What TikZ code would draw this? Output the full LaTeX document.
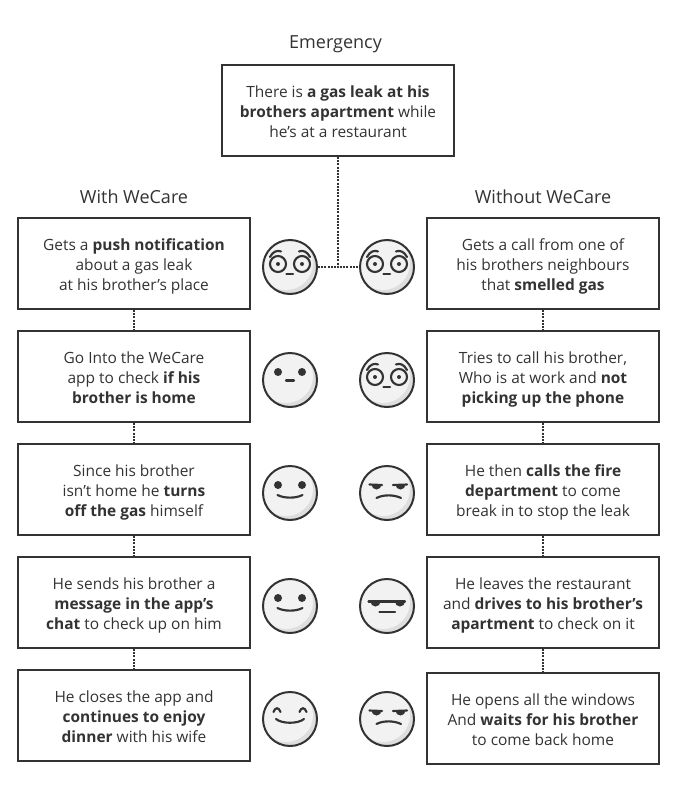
\documentclass[tikz,border=0pt]{standalone}
\usepackage{fontspec}
\setmainfont{Open Sans}
\definecolor{inkc}{HTML}{333333}
\definecolor{facelight}{HTML}{F2F2F2}
\definecolor{faceshade}{HTML}{DEDEDE}
\usetikzlibrary{calc}
\tikzset{
  box/.style={draw=inkc,line width=1.5pt,fill=white,minimum width=174pt,minimum height=68.25pt,align=center,text=inkc,font=\fontsize{11.6pt}{15pt}\selectfont,inner sep=0pt,
    execute at begin node={\rule[-3.4pt]{0pt}{46.6pt}}},
  title/.style={text=inkc,font=\fontsize{13.5pt}{15pt}\selectfont,inner sep=0pt,anchor=base},
  link/.style={draw=inkc,line width=1.6pt,dash pattern=on 1.5pt off 0.9pt},
  facecircle/.style={circle,minimum size=40.5pt,inner sep=0pt},
  featureline/.style={draw=inkc,line width=1.6pt,line cap=round},
  featurefill/.style={fill=inkc},
}
\newcommand{\facebase}[1]{%
  \begin{scope}
    \clip (#1) circle[radius=27];
    \fill[faceshade] (#1) circle[radius=27];
    \fill[facelight] ($(#1)+(-4,-4)$) circle[radius=27];
  \end{scope}
  \draw[inkc,line width=1.5pt] (#1) circle[radius=27];
}
\newcommand{\wide}[1]{\facebase{#1}
 \begin{scope}[shift={(#1)}]
  \draw[featureline] (-12,-3) circle[radius=8] (12,-3) circle[radius=8];
  \fill[featurefill] (-12,-3) circle[radius=2] (12,-3) circle[radius=2];
  \draw[featureline] (-3.5,7) -- (3,7);
  \draw[featureline] (-20,-10) .. controls (-17,-16) and (-12,-17) .. (-9,-15.5);
  \draw[featureline] (9,-15.5) .. controls (12,-17) and (17,-16) .. (20,-10);
 \end{scope}}
\newcommand{\neutral}[1]{\facebase{#1}
 \begin{scope}[shift={(#1)}]
  \fill[featurefill] (-12,-8) circle[radius=4] (12,-8) circle[radius=4];
  \draw[featureline] (-4,0.5) -- (4,0.5);
 \end{scope}}
\newcommand{\smiley}[1]{\facebase{#1}
 \begin{scope}[shift={(#1)}]
  \fill[featurefill] (-12,-8) circle[radius=4] (12,-8) circle[radius=4];
  \draw[featureline] (-12.5,2) .. controls (-6,5.5) and (6,5.5) .. (12.5,2);
 \end{scope}}
\newcommand{\grumpy}[1]{\facebase{#1}
 \begin{scope}[shift={(#1)}]
  \draw[featureline] (-17.5,-8.5) -- (-5,-8) (6,-8) -- (20,-8.5);
  \fill[featurefill] (-15.5,-8.5) arc[start angle=180,end angle=0,radius=5] -- cycle;
  \fill[featurefill] (8.5,-8.5) arc[start angle=180,end angle=0,radius=5] -- cycle;
  \draw[featureline] (-10.5,5) .. controls (-4,1.5) and (7,1.5) .. (14,5);
 \end{scope}}
\newcommand{\flatface}[1]{\facebase{#1}
 \begin{scope}[shift={(#1)}]
  \draw[featureline] (-18.5,-4.5) -- (18,-4.5);
  \fill[featurefill] (-16.5,-4.5) arc[start angle=180,end angle=0,radius=5] -- cycle;
  \fill[featurefill] (8,-4.5) arc[start angle=180,end angle=0,radius=5] -- cycle;
  \draw[featureline] (-7.5,6) -- (8,6);
 \end{scope}}
\newcommand{\content}[1]{\facebase{#1}
 \begin{scope}[shift={(#1)}]
  \draw[featureline] (-16.5,-7) .. controls (-15,-12) and (-11,-12) .. (-9.5,-7);
  \draw[featureline] (9.5,-7) .. controls (11,-12) and (15,-12) .. (16.5,-7);
  \draw[featureline] (-14,0) .. controls (-8,5) and (8,5) .. (14,0);
 \end{scope}}
\begin{document}
\begin{tikzpicture}[x=0.75pt,y=-0.75pt]
\useasboundingbox[fill=white] (0,0) rectangle (677,796);
\node[title] (temergency) at (335.5,48) {Emergency};
\node[title] (twith) at (134,203.5) {With WeCare};
\node[title] (twithout) at (543,203.5) {Without WeCare};
\node[facecircle] (f1l) at (290,267) {};
\node[facecircle] (f1r) at (387,267) {};
\coordinate (f2l) at (290,380);
\coordinate (f2r) at (387,380);
\coordinate (f3l) at (290,493);
\coordinate (f3r) at (387,493);
\coordinate (f4l) at (290,606);
\coordinate (f4r) at (387,606);
\coordinate (f5l) at (290,719);
\coordinate (f5r) at (387,719);
\node[box] (top) at (338,110.5) {There is \textbf{a gas leak at his}\\\textbf{brothers apartment} while\\he’s at a restaurant};
\node[box] (l1) at (134,263.5) {Gets a \textbf{push notification}\\about a gas leak\\at his brother’s place};
\node[box] (l2) at (134,376.5) {Go Into the WeCare\\app to check \textbf{if his}\\\textbf{brother is home}};
\node[box] (l3) at (134,489.5) {Since his brother\\isn’t home he \textbf{turns}\\\textbf{off the gas} himself};
\node[box] (l4) at (134,602.5) {He sends his brother a\\\textbf{message in the app’s}\\\textbf{chat} to check up on him};
\node[box] (l5) at (134,715.5) {He closes the app and\\\textbf{continues to enjoy}\\\textbf{dinner} with his wife};
\node[box] (r1) at (543,263.5) {Gets a call from one of\\his brothers neighbours\\that \textbf{smelled gas}};
\node[box] (r2) at (543,376.5) {Tries to call his brother,\\Who is at work and \textbf{not}\\\textbf{picking up the phone}};
\node[box] (r3) at (543,489.5) {He then \textbf{calls the fire}\\\textbf{department} to come\\break in to stop the leak};
\node[box] (r4) at (543,602.5) {He leaves the restaurant\\and \textbf{drives to his brother’s}\\\textbf{apartment} to check on it};
\node[box] (r5) at (543,718.5) {He opens all the windows\\And \textbf{waits for his brother}\\to come back home};
\draw[link] (top.south) |- (f1l.east);
\draw[link] (top.south) |- (f1r.west);
\foreach \a/\b in {l1/l2,l2/l3,l3/l4,l4/l5,r1/r2,r2/r3,r3/r4,r4/r5}{\draw[link] (\a) -- (\b);}
\wide{f1l}\wide{f1r}
\neutral{f2l}\wide{f2r}
\smiley{f3l}\grumpy{f3r}
\smiley{f4l}\flatface{f4r}
\content{f5l}\grumpy{f5r}
\end{tikzpicture}
\end{document}
